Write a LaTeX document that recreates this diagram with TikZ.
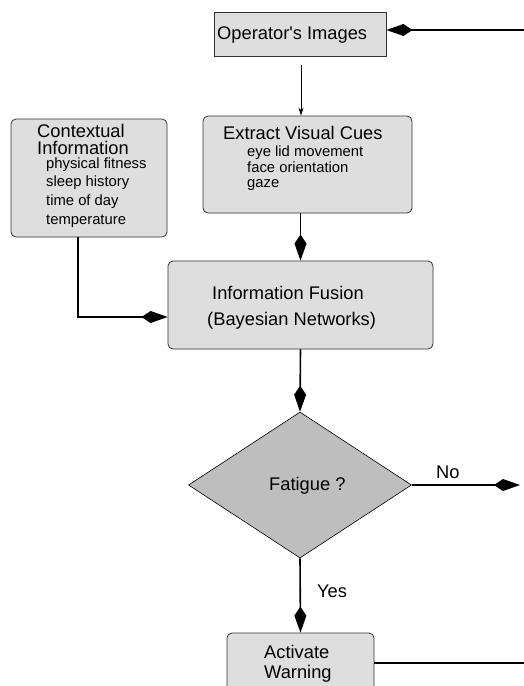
\documentclass[tikz,border=0pt]{standalone}
\usepackage{fontspec}
\newfontfamily\arial{Liberation Sans}
\usetikzlibrary{arrows.meta,shapes.geometric}
\definecolor{boxgray}{HTML}{DEDEDE}
\definecolor{diagray}{HTML}{BEBEBE}
\definecolor{edgegray}{HTML}{333333}
\begin{document}
\begin{tikzpicture}[x=1pt,y=-1pt,
  rbox/.style={draw=edgegray, fill=boxgray, line width=0.8pt, inner sep=0pt, rounded corners=5pt},
  big/.style={inner sep=0pt, anchor=base west, font=\arial\fontsize{18.3}{20}\selectfont},
  small/.style={inner sep=0pt, anchor=base west, font=\arial\fontsize{14.8}{17}\selectfont},
  conn/.style={line width=1.6pt, -{Kite[length=26pt,width=12pt,inset=9pt]}},
  thin/.style={line width=0.8pt, -{Stealth[length=8pt,width=5pt]}}
]
\useasboundingbox (0,0) rectangle (524,686);
\begin{scope}
\clip (0,0) rectangle (524,686);
% boxes
\node[draw=edgegray, fill=boxgray, line width=0.8pt, inner sep=0pt, minimum width=172pt, minimum height=44pt] (op) at (300,34) {};
\node[rbox, minimum width=209pt, minimum height=97pt] (ext) at (307.5,164.5) {};
\node[rbox, minimum width=156pt, minimum height=118pt] (ctx) at (89,178) {};
\node[rbox, minimum width=265pt, minimum height=88pt] (fus) at (300.5,305) {};
\node[diamond, draw=black, fill=diagray, line width=0.6pt, inner sep=0pt, minimum width=223pt, minimum height=146pt] (dia) at (300,485) {};
\node[rbox, minimum width=147pt, minimum height=60pt] (act) at (300.5,663) {};

% texts
\node[big] (t-op) at (217,39) {Operator's Images};
\node[big] (t-ext) at (223,139) {Extract Visual Cues};
\node[small] (t-e1) at (247,156) {eye lid movement};
\node[small] (t-e2) at (247,172) {face orientation};
\node[small] (t-e3) at (247,187) {gaze};
\node[big] (t-c1) at (37,137) {Contextual};
\node[big] (t-c2) at (37,154) {Information};
\node[small] (t-c3) at (46,168) {physical fitness};
\node[small] (t-c4) at (46,186) {sleep history};
\node[small] (t-c5) at (46,205) {time of day};
\node[small] (t-c6) at (46,224) {temperature};
\node[big] (t-f1) at (212,299) {Information Fusion};
\node[big] (t-f2) at (207,325) {(Bayesian Networks)};
\node[big] (t-dia) at (269,490) {Fatigue ?};
\node[big] (t-no) at (436,478) {No};
\node[big] (t-yes) at (317,597) {Yes};
\node[big] (t-a1) at (264,658) {Activate};
\node[big] (t-a2) at (264,678) {Warning};

% connectors
\coordinate (opin) at (524,30);
\coordinate (noout) at (520,485);
\coordinate (actout) at (524,663);
\draw[conn] (opin) -- ([yshift=4pt]op.east);
\draw[thin, shorten <=9pt] ([xshift=1pt]op.south) -- ([xshift=1pt]op.south |- ext.north);
\draw[conn] (ext.south -| fus.north) -- (fus.north);
\draw[conn] ([xshift=-11pt]ctx.south) |- ([yshift=-12pt]fus.west);
\draw[conn] (fus.south) -- (dia.north);
\draw[conn] (dia.east) -- (noout);
\draw[conn] (dia.south) -- (act.north);
\draw[line width=1.6pt] (act.east) -- (actout);
\end{scope}
\end{tikzpicture}
\end{document}
